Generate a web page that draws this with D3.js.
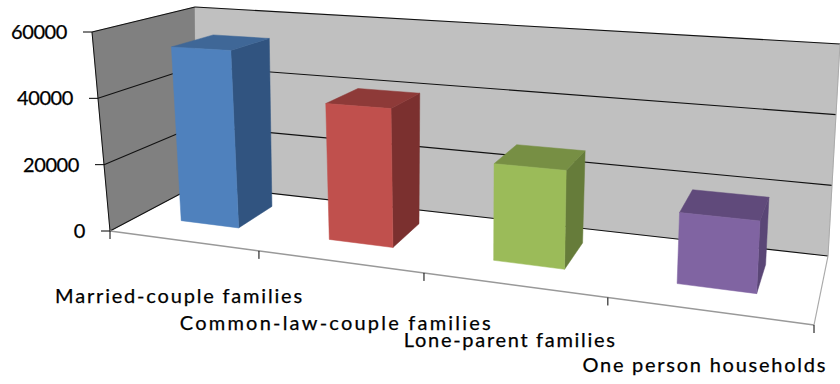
<!DOCTYPE html>
<html><head><meta charset="utf-8">
<script src="https://cdn.jsdelivr.net/npm/d3@7"></script>
<style>html,body{margin:0;padding:0;background:#fff}svg{display:block}
text{font-family:Lato,"Noto Sans",sans-serif;fill:#000;stroke:#000;stroke-width:0.25}</style></head>
<body><svg id="c" width="840" height="384"></svg>
<script>
const categories = ["Married-couple families","Common-law-couple families","Lone-parent families","One person households"];
const values = [53500,39700,26700,18500];
const valueTicks = [0,20000,40000,60000];
const faceColors = ["#4f81bd","#c0504d","#9bbb59","#8064a2"];
const sideColors = ["#315480","#7b302f","#667c3a","#5a4676"];
const topColors  = ["#3f6797","#8e3a38","#778f44","#604a7b"];

// the plot box, as seen in the picture
const box = {
  fl0:[110,231], fr0:[814,325], bl0:[197,185], br0:[828,256],
  fl1:[92,32],   fr1:[828,70],  bl1:[195,7],   br1:[840,44]
};
const persp = 0.805;
const warp = u => persp*u/(1+(persp-1)*u);
const lerp = (a,b,t)=>[a[0]+(b[0]-a[0])*t,a[1]+(b[1]-a[1])*t];
const yScale = d3.scaleLinear().domain([0,60000]).range([0,1]);
const xScale = d3.scaleBand().domain(categories).range([0,1]).paddingInner(0.6).paddingOuter(0.3);
const depth = d3.scaleLinear().domain([0,1]).range([0.34,0.776]);

function P(u,d,v){
  const w=warp(u), t=yScale(v);
  const f0=lerp(box.fl0,box.fr0,w), b0=lerp(box.bl0,box.br0,w);
  const f1=lerp(box.fl1,box.fr1,w), b1=lerp(box.bl1,box.br1,w);
  return lerp(lerp(f0,b0,d),lerp(f1,b1,d),t);
}
const svg=d3.select("#c");
const poly=(pts,fill)=>svg.append("polygon").attr("points",pts.map(p=>p.join(",")).join(" ")).attr("fill",fill).attr("stroke",fill).attr("stroke-width",0.5);
const seg=(a,b,col,w)=>svg.append("line").attr("x1",a[0]).attr("y1",a[1]).attr("x2",b[0]).attr("y2",b[1]).attr("stroke",col).attr("stroke-width",w);

// walls and floor
poly([P(0,0,0),P(0,1,0),P(1,1,0),P(1,0,0)],"#ffffff");
poly([P(0,0,0),P(0,0,60000),P(0,1,60000),P(0,1,0)],"#808080");
poly([P(0,1,0),P(0,1,60000),P(1,1,60000),P(1,1,0)],"#c0c0c0");

// grid lines
valueTicks.forEach(v=>{
  seg(P(0,0,v),P(0,1,v),"#111",1.1);
  seg(P(0,1,v),P(1,1,v),"#111",1.1);
  const a=P(0,0,v);
  seg([a[0]-9,a[1]],a,"#000",1);
  svg.append("text").attr("x",a[0]-25).attr("y",a[1]+7).attr("text-anchor","end")
    .attr("font-size",20).attr("letter-spacing",-0.4).text(v);
});
seg(P(0,0,0),P(0,0,60000),"#111",1);
seg(P(1,0,0),P(1,1,0),"#aaa",1.2);
seg(P(1,1,0),P(1,1,60000),"#aaa",1);
seg(P(0,0,0),P(1,0,0),"#999",1.5);

// category ticks
d3.range(0,5).forEach(i=>{
  const a=P(i/4,0,0);
  seg(a,[a[0],a[1]+8],"#000",1);
});

// bars
categories.forEach((c,i)=>{
  const u0=xScale(c),u1=u0+xScale.bandwidth(),v=values[i];
  const d0=depth(0),d1=depth(1);
  poly([P(u1,d0,0),P(u1,d0,v),P(u1,d1,v),P(u1,d1,0)],sideColors[i]);
  poly([P(u0,d0,v),P(u1,d0,v),P(u1,d1,v),P(u0,d1,v)],topColors[i]);
  poly([P(u0,d0,0),P(u0,d0,v),P(u1,d0,v),P(u1,d0,0)],faceColors[i]);
});

// category labels
const labelDy=[62,68,62,61], labelLen=[247,311,211,243];
categories.forEach((c,i)=>{
  const u=xScale(c)+xScale.bandwidth()/2, a=P(u,0,0);
  svg.append("text").attr("x",a[0]-4).attr("y",a[1]+labelDy[i]).attr("text-anchor","middle")
    .attr("font-size",20).attr("textLength",labelLen[i]).attr("lengthAdjust","spacing").text(c);
});
</script></body></html>
